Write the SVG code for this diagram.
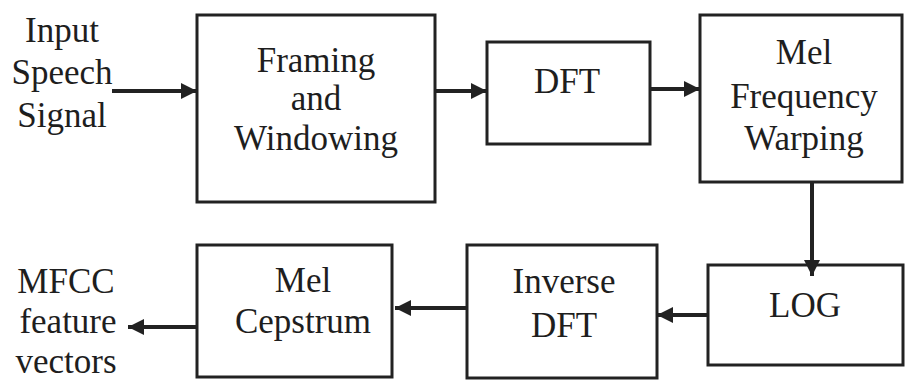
<svg xmlns="http://www.w3.org/2000/svg" width="905" height="382" viewBox="0 0 905 382" font-family="'Liberation Serif', 'Times New Roman', Times, 'DejaVu Serif', serif">
<style>
.box{fill:#fff;stroke:#222;stroke-width:3}
.t{font-size:35px;fill:#1e1e1e;text-anchor:middle}
.c{stroke:#222;stroke-width:4;fill:none}
</style>
<defs>
<marker id="ah" viewBox="0 0 16 16" refX="16" refY="8" markerWidth="16" markerHeight="16" markerUnits="userSpaceOnUse" orient="auto">
<path d="M0,0 L16,8 L0,16 z" fill="#222"/>
</marker>
</defs>
<rect width="905" height="382" fill="#fff"/>
<g id="input-label">
<text class="t" x="62" y="42" font-family="Liberation Serif, serif">Input</text>
<text class="t" x="62" y="84" font-family="Liberation Serif, serif">Speech</text>
<text class="t" x="62" y="127" font-family="Liberation Serif, serif">Signal</text>
</g>
<g id="framing">
<rect class="box" x="197" y="15" width="238" height="187"/>
<text class="t" x="316" y="72" font-family="Liberation Serif, serif">Framing</text>
<text class="t" x="316" y="110" font-family="Liberation Serif, serif">and</text>
<text class="t" x="316" y="150" font-family="Liberation Serif, serif">Windowing</text>
</g>
<g id="dft">
<rect class="box" x="487" y="42" width="163" height="102"/>
<text class="t" x="567" y="93" font-family="Liberation Serif, serif">DFT</text>
</g>
<g id="mel-warping">
<rect class="box" x="700" y="15" width="202" height="167"/>
<text class="t" x="804" y="64" font-family="Liberation Serif, serif">Mel</text>
<text class="t" x="804" y="108" font-family="Liberation Serif, serif">Frequency</text>
<text class="t" x="804" y="150" font-family="Liberation Serif, serif">Warping</text>
</g>
<g id="log">
<rect class="box" x="708" y="265" width="195" height="100"/>
<text class="t" x="805" y="317" font-family="Liberation Serif, serif">LOG</text>
</g>
<g id="inverse-dft">
<rect class="box" x="467" y="245" width="190" height="133"/>
<text class="t" x="564" y="293" font-family="Liberation Serif, serif">Inverse</text>
<text class="t" x="564" y="337" font-family="Liberation Serif, serif">DFT</text>
</g>
<g id="mel-cepstrum">
<rect class="box" x="197" y="245" width="195" height="132"/>
<text class="t" x="303" y="292" font-family="Liberation Serif, serif">Mel</text>
<text class="t" x="303" y="333" font-family="Liberation Serif, serif">Cepstrum</text>
</g>
<g id="output-label">
<text class="t" x="66" y="293" font-family="Liberation Serif, serif">MFCC</text>
<text class="t" x="68" y="333" font-family="Liberation Serif, serif">feature</text>
<text class="t" x="66" y="373" font-family="Liberation Serif, serif">vectors</text>
</g>
<g id="connectors">
<line class="c" x1="112" y1="91" x2="197" y2="91" marker-end="url(#ah)"/>
<line class="c" x1="435" y1="91" x2="487" y2="91" marker-end="url(#ah)"/>
<line class="c" x1="650" y1="89" x2="700" y2="89" marker-end="url(#ah)"/>
<line class="c" x1="812" y1="182" x2="812" y2="276" marker-end="url(#ah)"/>
<line class="c" x1="708" y1="315" x2="657" y2="315" marker-end="url(#ah)"/>
<line class="c" x1="467" y1="308" x2="395" y2="308" marker-end="url(#ah)"/>
<line class="c" x1="197" y1="327" x2="128" y2="327" marker-end="url(#ah)"/>
</g>
</svg>
